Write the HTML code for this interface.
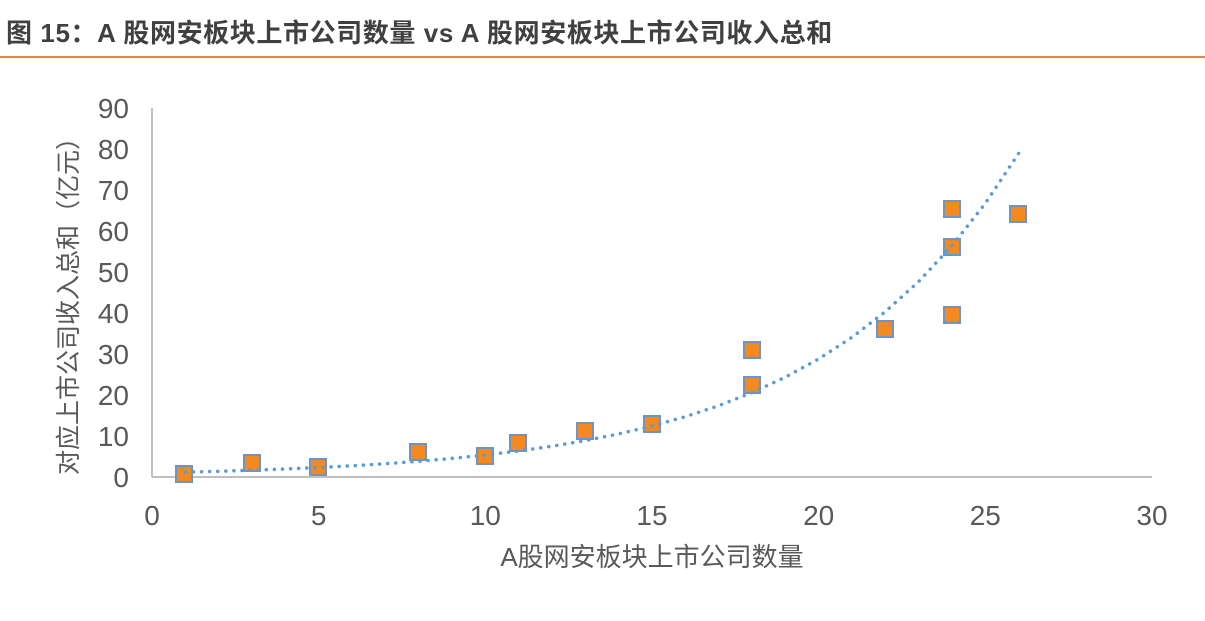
<!DOCTYPE html>
<html><head><meta charset="utf-8"><style>
body{margin:0;width:1205px;height:616px;background:#fff;overflow:hidden;font-family:"Liberation Sans","Noto Sans CJK SC",sans-serif}
</style></head><body>
<svg width="1205" height="616" xmlns="http://www.w3.org/2000/svg" font-family="Liberation Sans, Noto Sans CJK SC, sans-serif">
<text x="6" y="42" font-size="26" font-weight="bold" fill="#404040" letter-spacing="0.6">图 15：A 股网安板块上市公司数量 vs A 股网安板块上市公司收入总和</text>
<line x1="0" y1="57" x2="1205" y2="57" stroke="#E08A3C" stroke-width="2"/>
<line x1="152" y1="108" x2="152" y2="477" stroke="#bfbfbf" stroke-width="2"/>
<line x1="152" y1="477" x2="1152" y2="477" stroke="#bfbfbf" stroke-width="2"/>
<g font-size="28" fill="#595959" text-anchor="end">
<text x="129" y="487">0</text><text x="129" y="446">10</text><text x="129" y="405">20</text><text x="129" y="364">30</text><text x="129" y="323">40</text><text x="129" y="282">50</text><text x="129" y="241">60</text><text x="129" y="200">70</text><text x="129" y="159">80</text><text x="129" y="118">90</text>
</g>
<g font-size="28" fill="#595959" text-anchor="middle">
<text x="152" y="525">0</text><text x="318.7" y="525">5</text><text x="485.3" y="525">10</text><text x="652" y="525">15</text><text x="818.7" y="525">20</text><text x="985.3" y="525">25</text><text x="1152" y="525">30</text>
</g>
<text x="652" y="566" font-size="26" fill="#595959" text-anchor="middle">A股网安板块上市公司数量</text>
<text transform="translate(77,300) rotate(-90)" font-size="25" fill="#595959" text-anchor="middle">对应上市公司收入总和（亿元）</text>
<g fill="#F28A20" stroke="#6E93C4" stroke-width="2">
<rect x="176" y="466" width="16" height="16"/>
<rect x="244" y="455" width="16" height="16"/>
<rect x="310" y="459" width="16" height="16"/>
<rect x="410" y="444" width="16" height="16"/>
<rect x="477" y="448" width="16" height="16"/>
<rect x="510" y="435" width="16" height="16"/>
<rect x="577" y="423" width="16" height="16"/>
<rect x="644" y="416" width="16" height="16"/>
<rect x="744" y="342" width="16" height="16"/>
<rect x="744" y="377" width="16" height="16"/>
<rect x="877" y="321" width="16" height="16"/>
<rect x="944" y="201" width="16" height="16"/>
<rect x="944" y="239" width="16" height="16"/>
<rect x="944" y="307" width="16" height="16"/>
<rect x="1010" y="206" width="16" height="16"/>
</g>
<polyline fill="none" stroke="#5B9BD5" stroke-width="3.5" stroke-linecap="round" stroke-dasharray="0.1 8"
points="185.3,472.1 218.7,471.3 252,470.2 285.3,469 318.7,467.5 352,465.8 385.3,463.7 418.7,461.3 452,458.4 485.3,455 518.7,451 552,446.2 585.3,440.6 618.7,433.9 652,426 685.3,416.7 718.7,405.7 752,392.6 785.3,377.2 818.7,358.9 852,337.3 885.3,311.7 918.7,281.5 952,245.7 985.3,203.4 1018.7,153.3"/>
</svg>
</body></html>
